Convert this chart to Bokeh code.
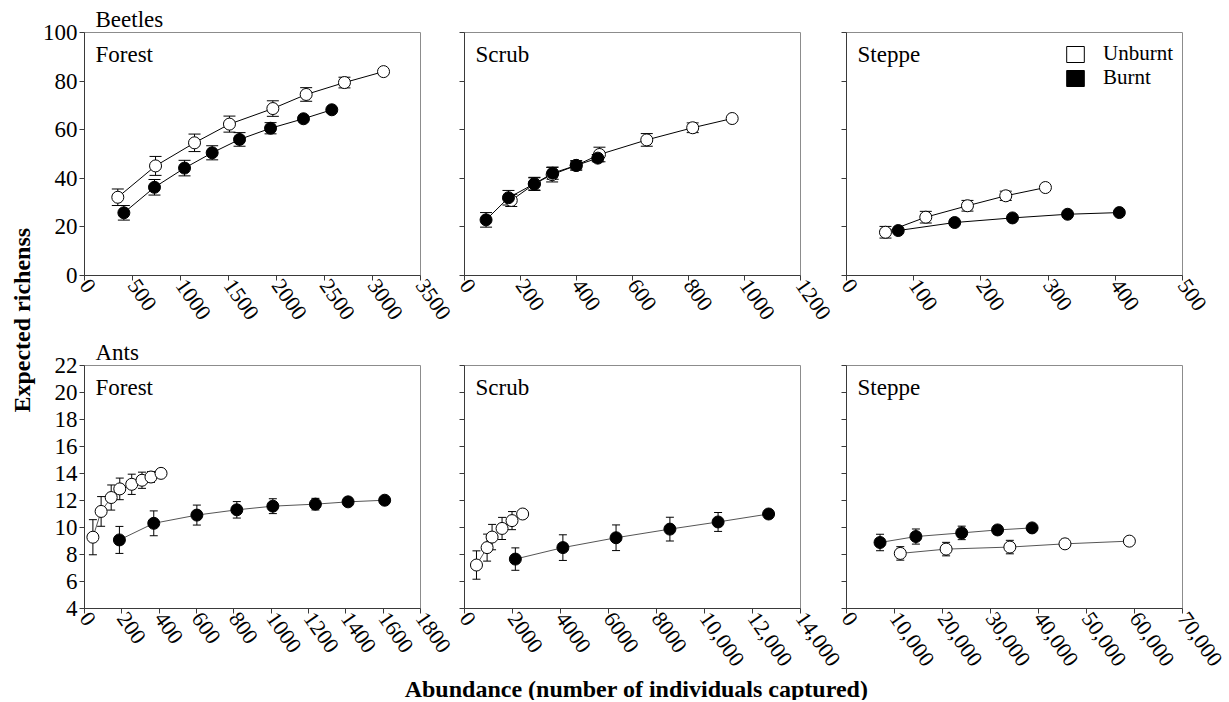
import math
from bokeh.plotting import figure
from bokeh.models import (ColumnDataSource, Range1d, Whisker, TeeHead, Label, Title,
                          Legend, LegendItem, FixedTicker)
from bokeh.layouts import row, column
from bokeh.embed import file_html
from bokeh.resources import INLINE
from bokeh.core.properties import value

FONT = "Liberation Serif"

# ---------------- data ----------------
# Beetles - Forest
bf_unb_x = [347, 740, 1146, 1510, 1962, 2309, 2708, 3115]
bf_unb_y = [32.2, 45.1, 54.6, 62.3, 68.7, 74.5, 79.4, 83.9]
bf_unb_e = [3.4, 3.9, 3.6, 3.3, 3.2, 2.8, 2.2, 0]
bf_brn_x = [410, 729, 1042, 1330, 1615, 1938, 2281, 2576]
bf_brn_y = [25.8, 36.3, 44.2, 50.5, 56.0, 60.6, 64.5, 68.2]
bf_brn_e = [3.0, 3.2, 3.2, 2.9, 2.8, 2.3, 0, 0]
# Beetles - Scrub
bs_unb_x = [167, 250, 313, 399, 482, 651, 815, 956]
bs_unb_y = [30.9, 37.7, 41.5, 45.3, 49.8, 55.8, 60.8, 64.6]
bs_unb_e = [2.5, 2.7, 3.0, 2.0, 3.0, 2.6, 2.0, 0]
bs_brn_x = [77, 157, 249, 315, 399, 476]
bs_brn_y = [22.9, 32.0, 37.7, 42.1, 45.3, 48.3]
bs_brn_e = [3.0, 3.0, 2.5, 2.5, 1.5, 1.5]
# Beetles - Steppe
bst_unb_x = [58, 118, 180, 237, 296]
bst_unb_y = [17.8, 24.0, 28.7, 32.8, 36.2]
bst_unb_e = [2.4, 2.4, 2.2, 1.9, 0]
bst_brn_x = [77, 161, 247, 329, 406]
bst_brn_y = [18.5, 21.8, 23.7, 25.2, 25.9]
bst_brn_e = [0, 0, 0, 0, 0]
# Ants - Forest
af_unb_x = [45, 89, 143, 189, 253, 308, 356, 410]
af_unb_y = [9.28, 11.19, 12.22, 12.86, 13.2, 13.5, 13.74, 14.01]
af_unb_e = [1.3, 1.1, 0.93, 0.8, 0.75, 0.6, 0.4, 0]
af_brn_x = [187, 371, 602, 816, 1009, 1237, 1412, 1608]
af_brn_y = [9.08, 10.31, 10.92, 11.31, 11.58, 11.73, 11.9, 12.02]
af_brn_e = [1.0, 0.92, 0.74, 0.61, 0.55, 0.43, 0.2, 0]
# Ants - Scrub
as_unb_x = [499, 942, 1149, 1565, 1980, 2423]
as_unb_y = [7.22, 8.51, 9.29, 9.93, 10.51, 11.0]
as_unb_e = [1.05, 1.0, 0.94, 0.82, 0.67, 0]
as_brn_x = [2119, 4099, 6315, 8558, 10566, 12671]
as_brn_y = [7.66, 8.51, 9.24, 9.88, 10.41, 11.0]
as_brn_e = [0.83, 0.95, 0.95, 0.88, 0.7, 0]
# Ants - Steppe
ast_unb_x = [11206, 20751, 34032, 45515, 58934]
ast_unb_y = [8.08, 8.40, 8.55, 8.79, 8.99]
ast_unb_e = [0.5, 0.5, 0.5, 0.34, 0]
ast_brn_x = [6986, 14457, 24002, 31473, 38666]
ast_brn_y = [8.89, 9.33, 9.60, 9.82, 9.97]
ast_brn_e = [0.61, 0.56, 0.5, 0.3, 0]

# ticks
beetle_yticks = [0, 20, 40, 60, 80, 100]
ant_yticks = [4, 6, 8, 10, 12, 14, 16, 18, 20, 22]
bf_xticks = [0, 500, 1000, 1500, 2000, 2500, 3000, 3500]
bf_xlabels = ["0", "500", "1000", "1500", "2000", "2500", "3000", "3500"]
bs_xticks = [0, 200, 400, 600, 800, 1000, 1200]
bs_xlabels = ["0", "200", "400", "600", "800", "1000", "1200"]
bst_xticks = [0, 100, 200, 300, 400, 500]
bst_xlabels = ["0", "100", "200", "300", "400", "500"]
af_xticks = [0, 200, 400, 600, 800, 1000, 1200, 1400, 1600, 1800]
af_xlabels = ["0", "200", "400", "600", "800", "1000", "1200", "1400", "1600", "1800"]
as_xticks = [0, 2000, 4000, 6000, 8000, 10000, 12000, 14000]
as_xlabels = ["0", "2000", "4000", "6000", "8000", "10,000", "12,000", "14,000"]
ast_xticks = [0, 10000, 20000, 30000, 40000, 50000, 60000, 70000]
ast_xlabels = ["0", "10,000", "20,000", "30,000", "40,000", "50,000", "60,000", "70,000"]

legend_labels = ["Unburnt", "Burnt"]
y_title = "Expected richenss"
x_title = "Abundance (number of individuals captured)"

FW, FH = 336, 243
YT_W = 39


def panel(name, xticks, xlabels, yticks, unb, brn, cap, line_col, show_ylab,
          ml, mr, mt, mb, shift=0, group=None):
    p = figure(frame_width=FW, frame_height=FH,
               x_range=Range1d(xticks[0], xticks[-1]),
               y_range=Range1d(yticks[0], yticks[-1]),
               output_backend="svg", toolbar_location=None,
               min_border_left=ml, min_border_right=mr,
               min_border_top=mt, min_border_bottom=mb,
               background_fill_color="white", border_fill_alpha=0)
    if shift:
        p.margin = (0, 0, 0, -shift)
    p.grid.visible = False
    p.outline_line_color = "#8c8c8c"
    p.outline_line_width = 1
    p.xaxis.ticker = FixedTicker(ticks=xticks)
    p.xaxis.major_label_overrides = {t: l for t, l in zip(xticks, xlabels)}
    p.xaxis.major_label_orientation = -0.96
    p.xaxis.major_label_standoff = 1
    p.yaxis.ticker = FixedTicker(ticks=yticks)
    if show_ylab:
        p.yaxis.major_label_overrides = {t: str(t) for t in yticks}
    else:
        p.yaxis.major_label_overrides = {t: "" for t in yticks}
    p.yaxis.major_label_standoff = 2
    for ax in p.axis:
        ax.axis_line_color = "#3a3a3a"
        ax.major_tick_line_color = "#3a3a3a"
        ax.major_tick_in = 0
        ax.major_tick_out = 5
        ax.minor_tick_in = 0
        ax.minor_tick_out = 0
        ax.major_label_text_font = FONT
        ax.major_label_text_color = "black"
    p.xaxis.major_label_text_font_size = "22px"
    p.yaxis.major_label_text_font_size = "23px"

    series = [(unb, "white"), (brn, "black")]
    for (xs, ys, es), fill in series:
        keep = [i for i, e in enumerate(es) if e > 0]
        if keep:
            wsrc = ColumnDataSource(dict(
                x=[xs[i] for i in keep],
                upper=[ys[i] + es[i] for i in keep],
                lower=[ys[i] - es[i] for i in keep]))
            w = Whisker(source=wsrc, base="x", upper="upper", lower="lower",
                        line_color="black", line_width=1,
                        upper_head=TeeHead(size=cap, line_color="black", line_width=1),
                        lower_head=TeeHead(size=cap, line_color="black", line_width=1))
            p.add_layout(w)
    for (xs, ys, es), fill in series:
        p.line(xs, ys, line_color=line_col, line_width=1)
    for (xs, ys, es), fill in series:
        p.scatter(xs, ys, marker="circle", size=12, fill_color=fill,
                  line_color="black", line_width=1)

    p.add_layout(Label(x=11, y=FH - 9, x_units="screen", y_units="screen",
                       text=name, text_font=FONT, text_font_size="23px",
                       text_baseline="top", text_color="black"))
    if group:
        p.add_layout(Title(text=group, align="left", offset=11, text_font=FONT,
                           text_font_size="23px", text_font_style="normal",
                           standoff=2, text_color="black"), "above")
    return p


# top row: frames at x = 85, 465, 847 (gaps 44 and 46)
p1 = panel("Forest", bf_xticks, bf_xlabels, beetle_yticks,
           (bf_unb_x, bf_unb_y, bf_unb_e), (bf_brn_x, bf_brn_y, bf_brn_e),
           12, "black", True, 45, 50, 32, 60, group="Beetles")
p2 = panel("Scrub", bs_xticks, bs_xlabels, beetle_yticks,
           (bs_unb_x, bs_unb_y, bs_unb_e), (bs_brn_x, bs_brn_y, bs_brn_e),
           12, "black", False, 30, 50, 32, 60, shift=50 + 30 - 44)
p3 = panel("Steppe", bst_xticks, bst_xlabels, beetle_yticks,
           (bst_unb_x, bst_unb_y, bst_unb_e), (bst_brn_x, bst_brn_y, bst_brn_e),
           12, "black", False, 30, 46, 32, 60, shift=50 + 30 - 46)
p4 = panel("Forest", af_xticks, af_xlabels, ant_yticks,
           (af_unb_x, af_unb_y, af_unb_e), (af_brn_x, af_brn_y, af_brn_e),
           8, "#555555", True, 45, 50, 30, 68, group="Ants")
p5 = panel("Scrub", as_xticks, as_xlabels, ant_yticks,
           (as_unb_x, as_unb_y, as_unb_e), (as_brn_x, as_brn_y, as_brn_e),
           8, "#555555", False, 30, 55, 30, 68, shift=50 + 30 - 44)
p6 = panel("Steppe", ast_xticks, ast_xlabels, ant_yticks,
           (ast_unb_x, ast_unb_y, ast_unb_e), (ast_brn_x, ast_brn_y, ast_brn_e),
           8, "#555555", False, 30, 46, 30, 68, shift=55 + 30 - 46)

# legend (in Beetles / Steppe): hidden zero-size quads built from the steppe data
r_u = p3.quad(left=bst_unb_x, right=bst_unb_x, top=bst_unb_y, bottom=bst_unb_y,
              fill_color="white", line_color="black", visible=False)
r_b = p3.quad(left=bst_brn_x, right=bst_brn_x, top=bst_brn_y, bottom=bst_brn_y,
              fill_color="black", line_color="black", visible=False)
for lab, rend, loc in [(legend_labels[0], r_u, (218, 209)),
                       (legend_labels[1], r_b, (218, 185))]:
    leg = Legend(items=[LegendItem(label=lab, renderers=[rend])],
                 location=loc, glyph_width=22, glyph_height=20,
                 label_text_font=FONT, label_text_font_size="21px", label_text_color="black",
                 label_standoff=17, spacing=0, padding=0, margin=0,
                 background_fill_alpha=0, border_line_alpha=0)
    p3.add_layout(leg)

ROWS_H = 32 + FH + 60 + 30 + FH + 68
TOTAL_W = 1183

# y title
yt = figure(frame_width=YT_W, frame_height=ROWS_H, x_range=Range1d(0, 1), y_range=Range1d(0, 1),
            min_border=0, toolbar_location=None, output_backend="svg",
            x_axis_location=None, y_axis_location=None)
yt.grid.visible = False
yt.outline_line_color = None
yt.text(x=[0.55], y=[0.527], text=[y_title], angle=math.pi / 2,
        text_align="center", text_baseline="middle", text_font=value(FONT),
        text_font_size="24px", text_font_style="bold", text_color="black")

# x title
xt = figure(frame_width=TOTAL_W, frame_height=24, x_range=Range1d(0, 1), y_range=Range1d(0, 1),
            min_border=0, toolbar_location=None, output_backend="svg",
            x_axis_location=None, y_axis_location=None)
xt.grid.visible = False
xt.outline_line_color = None
xt.text(x=[(636 - YT_W) / TOTAL_W], y=[0.5], text=[x_title],
        text_align="center", text_baseline="middle", text_font=value(FONT),
        text_font_size="24px", text_font_style="bold", text_color="black")

layout = row(yt, column(row(p1, p2, p3), row(p4, p5, p6), xt))

open("out.html", "w").write(file_html(layout, INLINE))
